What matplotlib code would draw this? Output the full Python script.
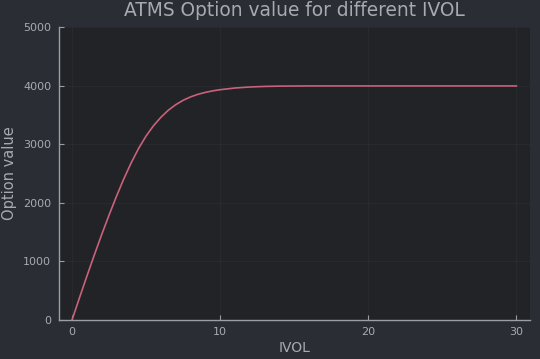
import matplotlib
matplotlib.use("Agg")
import matplotlib.pyplot as plt

# -------------------- Data -------------------- #

ivol = [0, 0.5, 1.0, 1.5, 2.0, 2.5, 3.0, 3.5, 4.0, 4.5, 5.0, 5.5, 6.0, 6.5,
        7.0, 7.5, 8.0, 8.5, 9.0, 9.5, 10, 11, 12, 13, 14, 16, 20, 25, 30]
option_value = [0, 375, 745, 1105, 1455, 1790, 2110, 2410, 2685, 2930, 3140,
                3315, 3460, 3580, 3675, 3750, 3808, 3852, 3885, 3911, 3931,
                3960, 3977, 3987, 3992, 3995, 3995, 3995, 3995]

x_ticks = [0, 10, 20, 30]
y_ticks = [0, 1000, 2000, 3000, 4000, 5000]

# -------------------- Style -------------------- #

FIG_BG = "#2a2d34"
AX_BG = "#212327"
FG = "#a6abb3"
SPINE = "#9a9fa7"
LINE = "#c9627a"

fig = plt.figure(figsize=(5.4, 3.59), dpi=100, facecolor=FIG_BG)
ax = fig.add_axes([0.110, 0.1086, 0.871, 0.816], facecolor=AX_BG)

ax.plot(ivol, option_value, color=LINE, linewidth=1.2)

ax.set_xlim(-0.85, 30.9)
ax.set_ylim(0, 5000)
ax.set_xticks(x_ticks)
ax.set_yticks(y_ticks)

ax.grid(True, color="white", alpha=0.03, linewidth=0.6)

for side in ("top", "right"):
    ax.spines[side].set_visible(False)
for side in ("left", "bottom"):
    ax.spines[side].set_color(SPINE)
    ax.spines[side].set_linewidth(1.0)

ax.tick_params(direction="in", length=3.5, width=0.8, color=SPINE,
               labelcolor=FG, labelsize=8)
ax.tick_params(axis="x", pad=5)
ax.tick_params(axis="y", pad=6)

ax.set_title("ATMS Option value for different IVOL", color=FG, fontsize=13.4, pad=8)
ax.set_xlabel("IVOL", color=FG, fontsize=10, labelpad=3)
ax.set_ylabel("Option value", color=FG, fontsize=10.5, labelpad=4)

fig.savefig("out.png", dpi=100, facecolor=FIG_BG)
